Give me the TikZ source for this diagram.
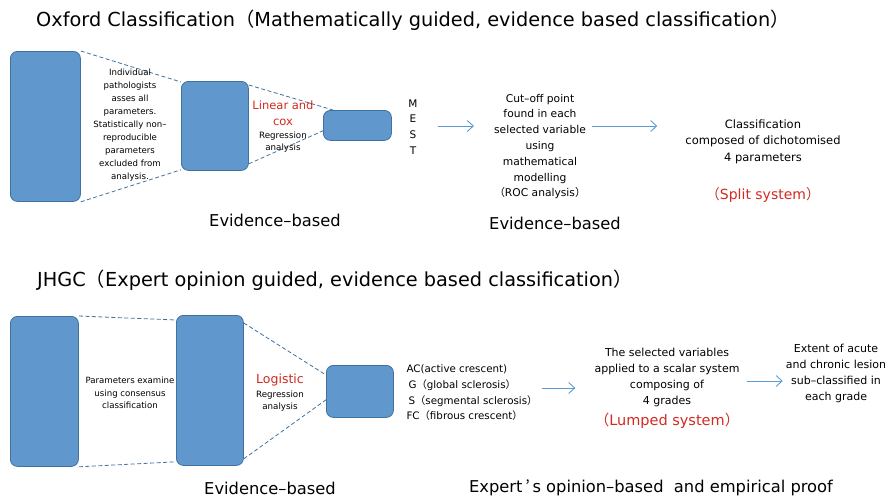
\documentclass[tikz,border=0pt]{standalone}
\usepackage{fontspec}
\setmainfont{DejaVu Sans}
\newfontfamily\cjkfont{Noto Sans CJK JP}
\newcommand\fwlp{{\cjkfont （}}
\newcommand\fwrp{{\cjkfont ）}}
\usetikzlibrary{arrows.meta,positioning}
\definecolor{boxfill}{HTML}{6097CC}
\definecolor{boxline}{HTML}{41719C}
\definecolor{flowblue}{HTML}{5B9BD5}
\definecolor{keyred}{HTML}{D02A20}

\begin{document}
\begin{tikzpicture}[x=1pt,y=-1pt,>={Straight Barb[length=6pt,width=11pt]},
  box/.style={draw=boxline,fill=boxfill,line width=0.8pt,rounded corners=7pt,
    inner sep=0pt,anchor=north west},
  funnel/.style={boxline,line width=0.8pt,dash pattern=on 4pt off 2.5pt},
  flow/.style={->,flowblue,line width=0.9pt},
  title/.style={anchor=west,inner sep=0pt,font=\fontsize{19.3}{22}\selectfont},
  basis/.style={inner sep=0pt,font=\fontsize{16.3}{20}\selectfont},
  note/.style={align=center,inner sep=3pt,font=\fontsize{8.6}{13}\selectfont},
  step text/.style={align=center,inner sep=3pt,font=\fontsize{10.7}{15.8}\selectfont},
  redlabel/.style={keyred,inner sep=0pt,font=\fontsize{12}{16}\selectfont}]
\useasboundingbox (0,0) rectangle (894,499);

% Oxford classification
\node[title] (oxtitle) at (36,20) {Oxford Classification\fwlp Mathematically guided, evidence based classification\fwrp};
\node[box,minimum width=70pt,minimum height=150pt] (ox1) at (10,51) {};
\node[box,minimum width=67pt,minimum height=89pt] (ox2) at (181,81) {};
\node[box,minimum width=68pt,minimum height=30pt] (ox3) at (323,110) {};
\draw[funnel] (ox1.north east) -- ([yshift=-1pt]ox2.north west);
\draw[funnel] (ox1.south east) -- ([yshift=1pt]ox2.south west);
\draw[funnel] ([yshift=-4pt]ox2.north east) -- ([xshift=10pt]ox3.north west);
\draw[funnel] ([yshift=7pt]ox2.south east) -- ([yshift=10pt]ox3.south west);
\node[note] (oxsel) at (130,125.5) {Individual\\pathologists\\asses all\\parameters.\\Statistically non–\\reproducible\\parameters\\excluded from\\analysis.};
\node[redlabel,align=center,font=\fontsize{11.5}{16}\selectfont] (linear) at (283,113) {Linear and\\cox};
\node[note,font=\fontsize{8.7}{12}\selectfont] (oxreg) at (283,142) {Regression\\analysis};
\node[align=center,inner sep=3pt,font=\fontsize{10.5}{15.7}\selectfont] (mest) at (413,127) {M\\E\\S\\T};
\node[step text] (cutoff) at (540,146.5) {Cut–off point\\found in each\\selected variable\\using\\mathematical\\modelling\\\fwlp ROC analysis\fwrp};
\node[step text,font=\fontsize{11.5}{16.5}\selectfont] (split) at (763,141.7) {Classification\\composed of dichotomised\\4 parameters};
\node[redlabel,font=\fontsize{14}{16}\selectfont] (splitname) at (763,195) {\fwlp Split system\fwrp};
\node[basis] (oxbasis1) at (275,220) {Evidence–based};
\node[basis] (oxbasis2) at (555,223) {Evidence–based};
\draw[flow,shorten <=17pt,shorten >=17pt] ([yshift=1pt]mest.east) -- ([yshift=1pt]mest.east -| cutoff.west);
\draw[flow,shorten <=3pt,shorten >=25pt] ([yshift=1pt]cutoff.east |- mest) -- ([yshift=1pt]split.west |- mest);

% JHGC
\node[title] (jtitle) at (37,280) {JHGC\fwlp Expert opinion guided, evidence based classification\fwrp};
\node[box,minimum width=68pt,minimum height=150pt] (j1) at (10,316) {};
\node[box,minimum width=67pt,minimum height=150pt] (j2) at (176,315) {};
\node[box,minimum width=67pt,minimum height=52pt] (j3) at (326,365) {};
\draw[funnel] (j1.north east) -- ([yshift=-5pt]j2.north west);
\draw[funnel] (j1.south east) -- ([yshift=4pt]j2.south west);
\draw[funnel] ([yshift=-8pt]j2.north east) -- ([yshift=-10pt]j3.north west);
\draw[funnel] ([yshift=7pt]j2.south east) -- ([yshift=18pt]j3.south west);
\node[note,font=\fontsize{8.6}{12.5}\selectfont] (consensus) at (130,393) {Parameters examine\\using consensus\\classification};
\node[redlabel,font=\fontsize{12.5}{16}\selectfont] (logistic) at (280,380) {Logistic};
\node[note,font=\fontsize{8.7}{12}\selectfont] (jreg) at (280,401) {Regression\\analysis};
\node[align=left,inner sep=3pt,font=\fontsize{10.3}{15.7}\selectfont] (lesions) at (472,393) {AC(active crescent)\\\hspace{2pt}G\fwlp global sclerosis\fwrp\\\hspace{2pt}S\fwlp segmental sclerosis\fwrp\\FC\fwlp fibrous crescent\fwrp};
\node[step text,font=\fontsize{11}{15.8}\selectfont] (grades) at (667,377.5) {The selected variables\\applied to a scalar system\\composing of\\4 grades};
\node[redlabel,font=\fontsize{14.5}{16}\selectfont] (lumped) at (667,421) {\fwlp Lumped system\fwrp};
\node[step text,font=\fontsize{11}{16.3}\selectfont] (extent) at (836,373.5) {Extent of acute\\and chronic lesion\\sub–classified in\\each grade};
\node[basis] (jbasis1) at (270,488) {Evidence–based};
\node[basis] (jbasis2) at (651,488) {Expert\,{\cjkfont ’}\,s opinion–based\ \ and empirical proof};
\draw[flow,shorten <=1pt,shorten >=16pt] ([yshift=5pt]lesions.east) -- ([yshift=5pt]lesions.east -| grades.west);
\draw[flow,shorten <=4pt,shorten >=0pt] ([yshift=-3.5pt]grades.east) -- ([yshift=-3.5pt]grades.east -| extent.west);
\end{tikzpicture}
\end{document}
